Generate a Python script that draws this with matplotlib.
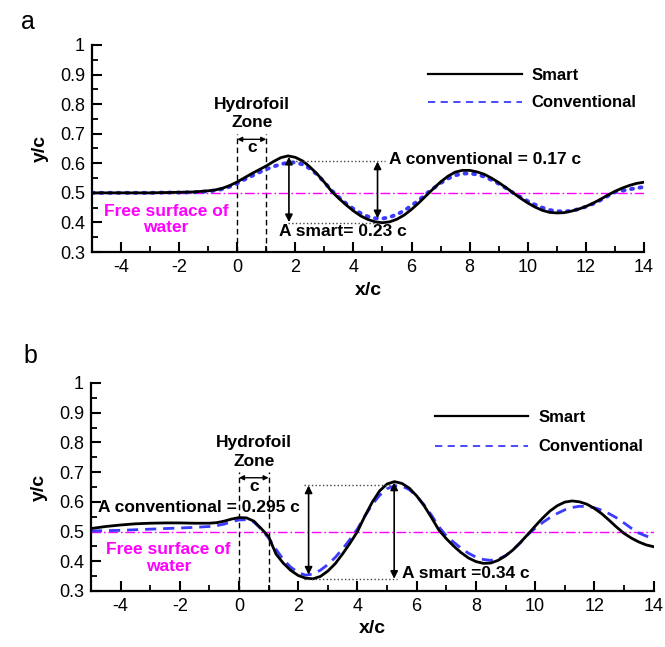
import numpy as np
import matplotlib
matplotlib.use("Agg")
import matplotlib.pyplot as plt
from matplotlib.lines import Line2D
from matplotlib.ticker import MultipleLocator, FuncFormatter

plt.rcParams['font.family'] = ['Liberation Sans', 'DejaVu Sans']
plt.rcParams['axes.unicode_minus'] = False

# --- data (x/c, y/c) ---
x_a = [-5, -4.5, -4, -3.5, -3, -2.5, -2, -1.5,
       -1, -0.75, -0.5, -0.25, 0, 0.25, 0.5, 0.75, 1, 1.25, 1.5, 1.75,
       2, 2.25, 2.5, 2.75, 3, 3.25, 3.5, 3.75, 4, 4.25, 4.5, 4.75,
       5, 5.25, 5.5, 5.75, 6, 6.25, 6.5, 6.75, 7, 7.25, 7.5, 7.75,
       8, 8.25, 8.5, 8.75, 9, 9.25, 9.5, 9.75, 10, 10.25, 10.5, 10.75,
       11, 11.25, 11.5, 11.75, 12, 12.25, 12.5, 12.75, 13, 13.25, 13.5, 13.75, 14]

smart_a = [0.500, 0.500, 0.500, 0.500, 0.500, 0.501, 0.502, 0.503,
           0.507, 0.510, 0.516, 0.525, 0.537, 0.551, 0.565, 0.578, 0.591, 0.606, 0.619, 0.625,
           0.620, 0.608, 0.588, 0.564, 0.536, 0.505, 0.481, 0.459, 0.439, 0.422, 0.410, 0.402,
           0.399, 0.402, 0.411, 0.425, 0.444, 0.466, 0.490, 0.514, 0.537, 0.556, 0.570, 0.576,
           0.576, 0.571, 0.563, 0.550, 0.535, 0.518, 0.500, 0.482, 0.466, 0.452, 0.441, 0.434,
           0.432, 0.433, 0.438, 0.445, 0.454, 0.465, 0.478, 0.492, 0.505, 0.516, 0.525, 0.532, 0.536]

conv_a = [0.500, 0.500, 0.500, 0.500, 0.500, 0.501, 0.501, 0.502,
          0.505, 0.508, 0.513, 0.521, 0.532, 0.545, 0.557, 0.569, 0.580, 0.589, 0.597, 0.602,
          0.603, 0.596, 0.582, 0.562, 0.536, 0.508, 0.485, 0.464, 0.446, 0.431, 0.420, 0.414,
          0.413, 0.418, 0.427, 0.440, 0.457, 0.475, 0.496, 0.515, 0.533, 0.548, 0.559, 0.565,
          0.566, 0.562, 0.555, 0.544, 0.531, 0.516, 0.500, 0.486, 0.472, 0.460, 0.450, 0.442,
          0.438, 0.437, 0.439, 0.445, 0.453, 0.463, 0.475, 0.489, 0.502, 0.507, 0.512, 0.516, 0.520]

x_b = x_a

smart_b = [0.510, 0.517, 0.522, 0.526, 0.528, 0.529, 0.529, 0.528,
           0.528, 0.530, 0.535, 0.542, 0.547, 0.546, 0.535, 0.510, 0.483, 0.424, 0.393, 0.369,
           0.352, 0.343, 0.341, 0.349, 0.367, 0.392, 0.425, 0.461, 0.500, 0.552, 0.599, 0.637,
           0.660, 0.668, 0.662, 0.646, 0.620, 0.587, 0.547, 0.505, 0.476, 0.451, 0.429, 0.411,
           0.399, 0.393, 0.394, 0.403, 0.418, 0.438, 0.463, 0.490, 0.518, 0.545, 0.569, 0.587,
           0.599, 0.603, 0.600, 0.592, 0.578, 0.560, 0.538, 0.515, 0.494, 0.478, 0.465, 0.455, 0.449]

conv_b = [0.502, 0.503, 0.504, 0.506, 0.508, 0.510, 0.512, 0.514,
          0.517, 0.520, 0.525, 0.533, 0.539, 0.540, 0.532, 0.508, 0.478, 0.440, 0.405, 0.380,
          0.362, 0.353, 0.357, 0.370, 0.389, 0.413, 0.442, 0.474, 0.509, 0.552, 0.591, 0.622,
          0.644, 0.654, 0.653, 0.641, 0.619, 0.590, 0.555, 0.516, 0.486, 0.464, 0.444, 0.427,
          0.414, 0.406, 0.403, 0.407, 0.419, 0.438, 0.462, 0.489, 0.511, 0.530, 0.547, 0.561,
          0.573, 0.581, 0.585, 0.584, 0.580, 0.572, 0.560, 0.546, 0.529, 0.511, 0.495, 0.485, 0.476]

free_surface = 0.5
zone_edges = [0, 1]

BLUE = '#3b3bff'
MAGENTA = '#ff00ff'
FS = 12.5


def setup_axes(ax):
    ax.set_xlim(-5, 14)
    ax.set_ylim(0.3, 1.0)
    for s in ['top', 'right']:
        ax.spines[s].set_visible(False)
    for s in ['left', 'bottom']:
        ax.spines[s].set_linewidth(1.6)
    ax.xaxis.set_major_locator(MultipleLocator(2))
    ax.xaxis.set_minor_locator(MultipleLocator(1))
    ax.yaxis.set_major_locator(MultipleLocator(0.1))
    ax.yaxis.set_major_formatter(FuncFormatter(lambda v, p: f'{v:g}'))
    ax.yaxis.set_minor_locator(MultipleLocator(0.05))
    ax.tick_params(which='major', direction='in', length=7, width=1.5, labelsize=13, pad=5)
    ax.tick_params(which='minor', direction='in', length=4, width=1.3)
    ax.set_xlabel('x/c', fontsize=14, fontweight='bold', labelpad=4)
    ax.set_ylabel('y/c', fontsize=14, fontweight='bold', labelpad=8)


def zone(ax):
    for xe in zone_edges:
        ax.plot([xe, xe], [0.3, 0.70], color='k', ls='--', lw=1.0, dashes=(4, 2.5))
    ax.text(0.5, 0.768, 'Hydrofoil\nZone', ha='center', va='center', fontsize=FS,
            fontweight='bold', linespacing=1.3)
    ax.annotate('', xy=(0, 0.681), xytext=(1, 0.681),
                arrowprops=dict(arrowstyle='<|-|>', color='k', lw=1.0, mutation_scale=7,
                                shrinkA=0, shrinkB=0))
    ax.text(0.5, 0.652, 'c', ha='center', va='center', fontsize=FS, fontweight='bold')
    ax.axhline(free_surface, color=MAGENTA, lw=1.0, ls=(0, (7, 2, 1.2, 2)))


def vert_arrow(ax, x, y0, y1):
    ax.annotate('', xy=(x, y0), xytext=(x, y1),
                arrowprops=dict(arrowstyle='<|-|>', color='k', lw=1.2, mutation_scale=11,
                                shrinkA=0, shrinkB=0))


def hguide(ax, x0, x1, y):
    ax.plot([x0, x1], [y, y], color='#444444', lw=1.0, ls=':')


fig = plt.figure(figsize=(6.65, 6.47), dpi=100)

# ---------------- panel a ----------------
ax1 = fig.add_axes([0.1383, 0.6105, 0.830, 0.320])
setup_axes(ax1)
zone(ax1)
ax1.plot(x_a, conv_a, color=BLUE, ls=(0, (0.5, 1.7)), lw=2.8, dash_capstyle='round')
ax1.plot(x_a, smart_a, color='k', lw=2.0)
ax1.text(-2.45, 0.41, 'Free surface of\nwater', color=MAGENTA, ha='center', va='center',
         fontsize=FS, fontweight='bold', linespacing=1.15)
hguide(ax1, 1.9, 5.1, 0.607)
hguide(ax1, 1.75, 4.9, 0.399)
vert_arrow(ax1, 1.78, 0.622, 0.401)
vert_arrow(ax1, 4.83, 0.606, 0.414)
ax1.text(5.22, 0.613, 'A conventional = 0.17 c', ha='left', va='center', fontsize=FS,
         fontweight='bold')
ax1.text(1.45, 0.369, 'A smart= 0.23 c', ha='left', va='center', fontsize=FS,
         fontweight='bold')
h_a = [Line2D([], [], color='k', lw=1.6),
       Line2D([], [], color=BLUE, lw=1.3, ls='--', dashes=(4, 3))]
ax1.legend(h_a, ['Smart', 'Conventional'], loc='upper left', bbox_to_anchor=(0.644, 0.895),
           bbox_transform=fig.transFigure, frameon=False, borderpad=0, borderaxespad=0,
           handlelength=5.6, handletextpad=0.6, labelspacing=0.75,
           prop={'size': 12, 'weight': 'bold'})
fig.text(0.042, 0.966, 'a', fontsize=18, ha='center', va='center')

# ---------------- panel b ----------------
ax2 = fig.add_axes([0.1368, 0.0866, 0.846, 0.3215])
setup_axes(ax2)
zone(ax2)
ax2.plot(x_b, conv_b, color=BLUE, ls='--', dashes=(4, 2.5), lw=2.0)
ax2.plot(x_b, smart_b, color='k', lw=2.0)
ax2.text(-2.38, 0.41, 'Free surface of\nwater', color=MAGENTA, ha='center', va='center',
         fontsize=FS, fontweight='bold', linespacing=1.15)
hguide(ax2, 2.18, 5.2, 0.655)
hguide(ax2, 2.2, 5.35, 0.341)
vert_arrow(ax2, 2.35, 0.655, 0.355)
vert_arrow(ax2, 5.24, 0.665, 0.341)
ax2.text(-4.75, 0.58, 'A conventional = 0.295 c', ha='left', va='center', fontsize=FS,
         fontweight='bold')
ax2.text(5.52, 0.36, 'A smart =0.34 c', ha='left', va='center', fontsize=FS,
         fontweight='bold')
h_b = [Line2D([], [], color='k', lw=1.6),
       Line2D([], [], color=BLUE, lw=1.3, ls='--', dashes=(4, 3))]
ax2.legend(h_b, ['Smart', 'Conventional'], loc='upper left', bbox_to_anchor=(0.654, 0.366),
           bbox_transform=fig.transFigure, frameon=False, borderpad=0, borderaxespad=0,
           handlelength=5.6, handletextpad=0.6, labelspacing=0.85,
           prop={'size': 12, 'weight': 'bold'})
fig.text(0.045, 0.45, 'b', fontsize=18, ha='center', va='center')

fig.savefig('out.png', dpi=100)
